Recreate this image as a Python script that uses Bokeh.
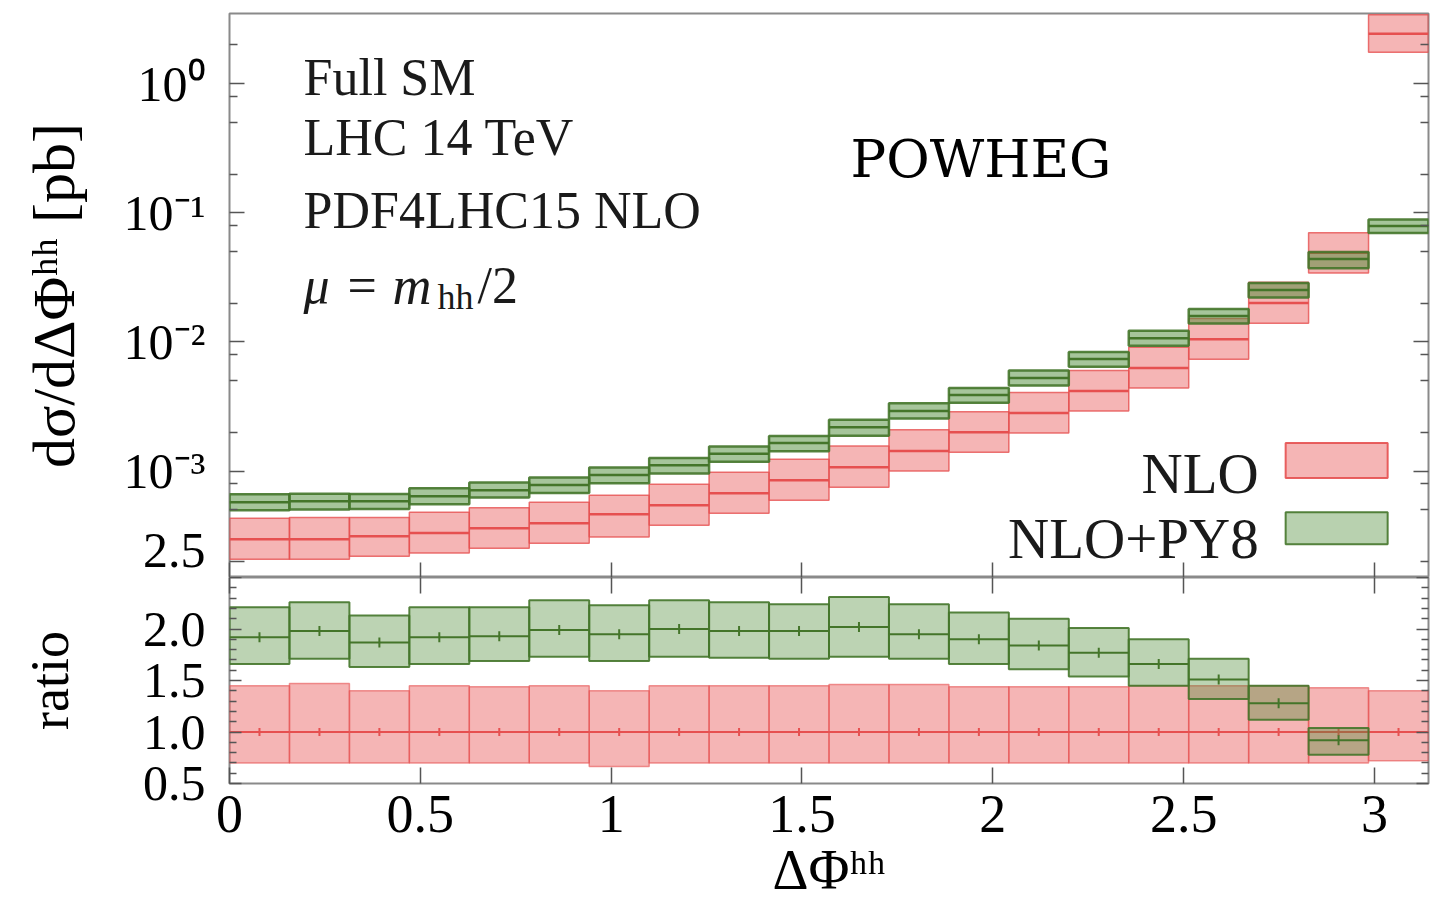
import math
from bokeh.plotting import figure
from bokeh.layouts import column
from bokeh.models import (ColumnDataSource, Range1d, FixedTicker, CustomJSTickFormatter,
                          LinearAxis, LogAxis, Label, BoxAnnotation)
from bokeh.embed import file_html
from bokeh.resources import INLINE

# ---------------- data ----------------
bin_edges = [0.0, 0.1571, 0.3142, 0.4712, 0.6283, 0.7854, 0.9425, 1.0996, 1.2566, 1.4137,
             1.5708, 1.7279, 1.8850, 2.0420, 2.1991, 2.3562, 2.5133, 2.6704, 2.8274,
             2.9845, 3.1416]

nlo_central = [2.97e-4, 2.97e-4, 3.13e-4, 3.31e-4, 3.61e-4, 3.95e-4, 4.64e-4, 5.45e-4,
               6.75e-4, 8.51e-4, 1.07e-3, 1.43e-3, 2.00e-3, 2.82e-3, 4.17e-3, 6.28e-3,
               1.05e-2, 2.00e-2, 4.90e-2, 2.44]
py8_central = [5.75e-4, 5.85e-4, 5.85e-4, 6.40e-4, 7.12e-4, 7.79e-4, 9.31e-4, 1.11e-3,
               1.36e-3, 1.65e-3, 2.19e-3, 2.92e-3, 3.88e-3, 5.26e-3, 7.38e-3, 1.07e-2,
               1.59e-2, 2.53e-2, 4.40e-2, 7.93e-2]

nlo_ratio_hi = [1.45, 1.47, 1.40, 1.45, 1.44, 1.45, 1.40, 1.45, 1.45, 1.45,
                1.46, 1.46, 1.44, 1.44, 1.44, 1.45, 1.45, 1.45, 1.43, 1.40]
nlo_ratio_lo = [0.70, 0.70, 0.70, 0.70, 0.70, 0.70, 0.665, 0.70, 0.70, 0.70,
                0.70, 0.70, 0.70, 0.70, 0.70, 0.70, 0.70, 0.70, 0.70, 0.72]
py8_ratio = [1.92, 1.98, 1.87, 1.92, 1.93, 1.99, 1.95, 2.00, 1.98, 1.98,
             2.02, 1.95, 1.90, 1.84, 1.77, 1.66, 1.51, 1.28, 0.92, 0.033]
py8_ratio_hi = [2.21, 2.26, 2.13, 2.21, 2.21, 2.28, 2.23, 2.28, 2.26, 2.24,
                2.31, 2.24, 2.16, 2.10, 2.01, 1.90, 1.71, 1.45, 1.04, 0.037]
py8_ratio_lo = [1.66, 1.71, 1.63, 1.66, 1.69, 1.73, 1.69, 1.73, 1.72, 1.71,
                1.73, 1.71, 1.66, 1.61, 1.54, 1.45, 1.32, 1.12, 0.78, 0.029]

x_ticks = [0, 0.5, 1, 1.5, 2, 2.5, 3]
log_major = [1e-3, 1e-2, 1e-1, 1]
log_minor = [2e-4, 5e-4, 8e-4, 2e-3, 5e-3, 8e-3, 2e-2, 5e-2, 8e-2, 0.2, 0.5, 0.8, 2]
ratio_major = [0.5, 1.0, 1.5, 2.0, 2.5]
ratio_minor = [0.6, 0.7, 0.8, 0.9, 1.1, 1.2, 1.3, 1.4, 1.6, 1.7, 1.8, 1.9, 2.1, 2.2, 2.3, 2.4]

info_lines = ["Full SM", "LHC 14 TeV", "PDF4LHC15 NLO"]
mu_parts = ["\u03bc", "=", "m", "hh", "/2"]

# ---------------- derived table ----------------
n = len(nlo_central)
left = bin_edges[:-1]
right = bin_edges[1:]
mid = [(a + b) / 2 for a, b in zip(left, right)]
src = ColumnDataSource(dict(
    left=left, right=right, mid=mid,
    nlo_c=nlo_central,
    nlo_lo=[c * r for c, r in zip(nlo_central, nlo_ratio_lo)],
    nlo_hi=[c * r for c, r in zip(nlo_central, nlo_ratio_hi)],
    py8_c=py8_central,
    py8_lo=[c * lo / m for c, lo, m in zip(py8_central, py8_ratio_lo, py8_ratio)],
    py8_hi=[c * hi / m for c, hi, m in zip(py8_central, py8_ratio_hi, py8_ratio)],
    r_nlo_c=[1.0] * n, r_nlo_lo=nlo_ratio_lo, r_nlo_hi=nlo_ratio_hi,
    r_py8_c=py8_ratio, r_py8_lo=py8_ratio_lo, r_py8_hi=py8_ratio_hi,
))

FONT = "Liberation Serif"
RED_FILL = "#e64646"
RED_LINE = "#e65050"
GREEN_FILL = "#4e8c38"
GREEN_LINE = "#44752a"
FRAME = "#8a8a8a"
TICK = "#555555"

X_PX0, X_PXPU = 229.0, 381.6     # pixel helpers for annotation placement
Y_PX0, Y_PXPD = 83.0, 129.0


def px2x(px):
    return (px - X_PX0) / X_PXPU


def px2y(py):
    return 10 ** ((Y_PX0 - py) / Y_PXPD)


BLANK = CustomJSTickFormatter(code="return '';")


def style_axis(ax, labels=True, major_in=15, minor_in=8, size="52px"):
    ax.major_tick_in = major_in
    ax.major_tick_out = 0
    ax.minor_tick_in = minor_in
    ax.minor_tick_out = 0
    ax.axis_line_color = None
    ax.major_tick_line_color = TICK
    ax.minor_tick_line_color = TICK
    ax.major_tick_line_width = 1.5
    ax.minor_tick_line_width = 1.5
    ax.major_label_text_font = FONT
    ax.major_label_text_color = "black"
    ax.axis_label_text_font = FONT
    ax.axis_label_text_font_style = "normal"
    ax.axis_label_text_color = "black"
    if labels:
        ax.major_label_text_font_size = size
    else:
        ax.formatter = BLANK
        ax.major_label_text_font_size = "1px"
        ax.major_label_standoff = 0


def add_text(p, x, y, text, size="52px", align="left", style="normal", font=FONT, color="#1a1a1a"):
    p.add_layout(Label(x=x, y=y, text=text, text_font=font, text_font_size=size,
                       text_align=align, text_baseline="alphabetic",
                       text_font_style=style, text_color=color))


# ---------------- top panel ----------------
top = figure(frame_width=1199, frame_height=564, x_range=Range1d(0, math.pi),
             y_range=Range1d(1.5e-4, 3.5), y_axis_type="log",
             output_backend="svg", toolbar_location=None,
             min_border_left=229, min_border_right=5, min_border_top=13, min_border_bottom=0)
top.xgrid.visible = False
top.ygrid.visible = False
top.outline_line_color = FRAME
top.outline_line_width = 2

top.quad(left="left", right="right", bottom="nlo_lo", top="nlo_hi", source=src,
         fill_color=RED_FILL, fill_alpha=0.4, line_color=RED_LINE, line_alpha=0.8, line_width=1.5)
top.segment(x0="left", x1="right", y0="nlo_c", y1="nlo_c", source=src,
            line_color=RED_LINE, line_width=2.5)
top.quad(left="left", right="right", bottom="py8_lo", top="py8_hi", source=src,
         fill_color=GREEN_FILL, fill_alpha=0.5, line_color=GREEN_LINE, line_alpha=0.9, line_width=2.5)
top.segment(x0="left", x1="right", y0="py8_c", y1="py8_c", source=src,
            line_color=GREEN_LINE, line_width=2.5)

# The ratio panel's top label ("2.5") straddles the panel border in the reference; it is
# drawn by the upper panel's axis at its lowest minor-tick position so it is not clipped.
lowest_minor = log_minor[0]
yax = top.yaxis[0]
yax.ticker = FixedTicker(ticks=[lowest_minor] + log_major, minor_ticks=log_minor[1:])
yax.formatter = CustomJSTickFormatter(code="""
if (tick < %g) return "%.1f";
const e = Math.round(Math.log10(tick));
const sup = {"0":"\u2070","1":"\u00b9","2":"\u00b2","3":"\u00b3","-":"\u207b"};
return "10" + String(e).split("").map(c => sup[c]).join("");
""" % (log_major[0] * 0.5, ratio_major[-1]))
style_axis(yax, labels=True, major_in=15, minor_in=8, size="50px")
yax.major_label_standoff = 24
yax.axis_label = "d\u03c3/d\u0394\u03a6\u02b0\u02b0 [pb]"
yax.axis_label_text_font_size = "60px"
yax.axis_label_standoff = 34

xax_t = top.xaxis[0]
xax_t.ticker = FixedTicker(ticks=x_ticks, minor_ticks=[])
style_axis(xax_t, labels=False)

r_ax = LogAxis(ticker=FixedTicker(ticks=log_major, minor_ticks=log_minor))
style_axis(r_ax, labels=False)
top.add_layout(r_ax, "right")

# info text
for txt, bl in zip(info_lines, [77, 137, 210]):
    add_text(top, px2x(303), px2y(bl), txt)
mu_x = [303, 347, 392, 437, 477]
mu_y = [285, 285, 285, 296, 285]
mu_size = ["52px", "52px", "54px", "36px", "52px"]
mu_style = ["italic", "normal", "italic", "normal", "normal"]
for t, xx, yy, sz, st in zip(mu_parts, mu_x, mu_y, mu_size, mu_style):
    add_text(top, px2x(xx), px2y(yy), t, size=sz, style=st)

add_text(top, px2x(850), px2y(158), "POWHEG", size="53px", font="DejaVu Serif", color="black")

# legend
add_text(top, px2x(1258), px2y(472), "NLO", size="57px", align="right")
add_text(top, px2x(1258), px2y(537), "NLO+PY8", size="57px", align="right")
top.add_layout(BoxAnnotation(left=px2x(1285), right=px2x(1387), top=px2y(442), bottom=px2y(477),
                             fill_color=RED_FILL, fill_alpha=0.4, line_color=RED_LINE,
                             line_alpha=0.9, line_width=2))
top.add_layout(BoxAnnotation(left=px2x(1285), right=px2x(1387), top=px2y(511), bottom=px2y(543),
                             fill_color=GREEN_FILL, fill_alpha=0.4, line_color=GREEN_LINE,
                             line_alpha=0.9, line_width=2))

# ---------------- ratio panel ----------------
bot = figure(frame_width=1199, frame_height=206, x_range=top.x_range,
             y_range=Range1d(0.5, 2.5), output_backend="svg", toolbar_location=None,
             min_border_left=229, min_border_right=5, min_border_top=0, min_border_bottom=122)
bot.xgrid.visible = False
bot.ygrid.visible = False
bot.outline_line_color = FRAME
bot.outline_line_width = 2

bot.quad(left="left", right="right", bottom="r_nlo_lo", top="r_nlo_hi", source=src,
         fill_color=RED_FILL, fill_alpha=0.4, line_color=RED_LINE, line_alpha=0.6, line_width=1.5)
bot.segment(x0="left", x1="right", y0="r_nlo_c", y1="r_nlo_c", source=src,
            line_color=RED_LINE, line_width=2)
bot.scatter(x="mid", y="r_nlo_c", source=src, marker="dash", angle=math.pi / 2, size=8,
            line_color=RED_LINE, line_width=2)
bot.quad(left="left", right="right", bottom="r_py8_lo", top="r_py8_hi", source=src,
         fill_color=GREEN_FILL, fill_alpha=0.38, line_color=GREEN_LINE, line_alpha=0.9, line_width=2)
bot.segment(x0="left", x1="right", y0="r_py8_c", y1="r_py8_c", source=src,
            line_color=GREEN_LINE, line_width=2)
bot.scatter(x="mid", y="r_py8_c", source=src, marker="dash", angle=math.pi / 2, size=10,
            line_color=GREEN_LINE, line_width=2)

ry = bot.yaxis[0]
ry.ticker = FixedTicker(ticks=ratio_major, minor_ticks=ratio_minor)
ry.formatter = CustomJSTickFormatter(code="return tick >= %g ? '' : tick.toFixed(1);"
                                     % (ratio_major[-1] - 0.05))
style_axis(ry, labels=True, major_in=12, minor_in=7, size="50px")
ry.major_label_standoff = 24
ry.axis_label = "ratio"
ry.axis_label_text_font_size = "54px"
ry.axis_label_standoff = 60

rx = bot.xaxis[0]
rx.ticker = FixedTicker(ticks=x_ticks, minor_ticks=[])
style_axis(rx, labels=True, major_in=16, size="54px")
rx.major_label_standoff = 12
rx.axis_label = "\u0394\u03a6\u02b0\u02b0"
rx.axis_label_text_font_size = "56px"
rx.axis_label_standoff = 4

ax_above = LinearAxis(ticker=FixedTicker(ticks=x_ticks, minor_ticks=[]))
style_axis(ax_above, labels=False, major_in=16)
bot.add_layout(ax_above, "above")

ax_right = LinearAxis(ticker=FixedTicker(ticks=ratio_major, minor_ticks=ratio_minor))
style_axis(ax_right, labels=False, major_in=12, minor_in=7)
bot.add_layout(ax_right, "right")

layout = column(top, bot, spacing=0)
open("out.html", "w", encoding="utf-8").write(file_html(layout, INLINE))
